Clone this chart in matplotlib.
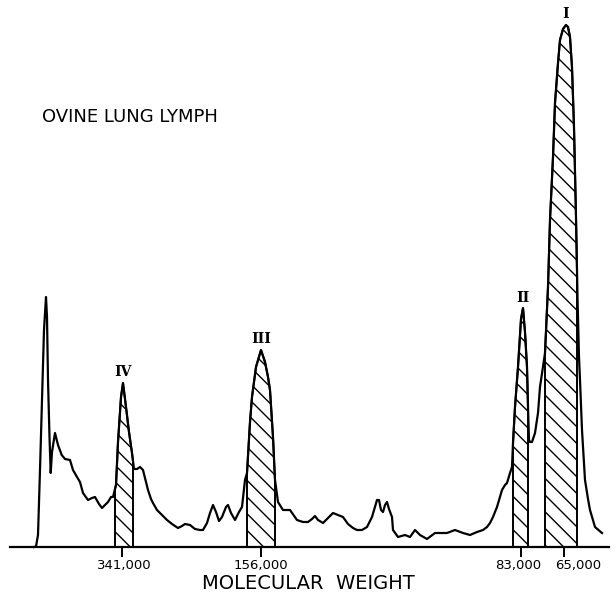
import numpy as np
import matplotlib
matplotlib.use("Agg")
import matplotlib.pyplot as plt
import matplotlib.transforms as mtransforms

# densitometer trace: position along the gel and height above baseline
trace_pos = [34, 36, 38, 40, 42, 44, 46, 47, 48, 49.5, 50.7, 52, 55, 58, 61.7, 65, 70, 73, 77, 80,
             83, 88, 92, 95, 99, 102, 105, 108, 111, 113, 116, 118, 121, 123, 126, 129, 132, 134,
             137, 140, 143, 146, 148, 151, 153, 157, 160, 164, 167, 172, 178, 182, 185, 190, 195,
             200, 203, 207, 210, 213, 216, 219, 222, 226, 228, 231, 235, 239, 242, 245, 247, 250,
             252, 256, 261, 265, 268, 270, 273, 275, 278, 283, 290, 297, 303, 308, 312, 315, 318,
             323, 328, 333, 338, 343, 348, 353, 357, 362, 367, 372, 377, 379, 381, 383, 385, 387,
             389, 392, 393, 398, 405, 410, 415, 420, 427, 435, 447, 455, 463, 470, 477, 483, 487,
             490, 493, 497, 500, 502, 505, 507, 510, 512, 513, 515, 518, 521, 523, 525, 527, 528,
             529, 530, 532, 535, 538, 540, 543, 545, 548, 550, 553, 555, 558, 560, 563, 566, 568,
             570, 572, 574, 576, 577.5, 579, 580, 582, 585, 588, 590, 595, 602]
trace_h = [0, 0.5, 12, 77, 147, 217, 250, 230, 167, 110, 74, 95, 114, 102, 92, 88, 87, 77, 70, 65,
           54, 47, 49, 50, 43, 39, 42, 45, 50, 50, 62, 105, 150, 164, 140, 115, 94, 78,
           78, 80, 77, 65, 57, 48, 44, 37, 34, 30, 27, 23, 19, 21, 23, 22, 18,
           17, 17, 24, 34, 42, 35, 26, 30, 40, 42, 34, 27, 35, 40, 67, 74, 125,
           150, 180, 197, 185, 170, 157, 110, 67, 45, 37, 37, 27, 25, 25, 28, 31, 27,
           24, 29, 34, 32, 30, 23, 19, 17, 17, 20, 30, 47, 47, 37, 35, 42, 45,
           38, 30, 17, 10, 12, 10, 17, 12, 8, 14, 14, 17, 14, 12, 15, 17, 20,
           24, 30, 40, 50, 57, 62, 64, 74, 80, 104, 140, 180, 228, 239, 215, 180, 140,
           107, 105, 105, 114, 134, 160, 180, 194, 260, 327, 390, 444, 484, 507, 518, 522, 520,
           510, 480, 420, 330, 250, 190, 167, 117, 67, 48, 37, 20, 14]

# shaded fractions (start, end) and their names
band_names = ["IV", "III", "II", "I"]
band_ranges = [(115, 133), (247, 275), (513, 528), (545, 577)]

# molecular weight markers
mw_pos = [122, 261, 521, 564]
mw_labels = ["341,000", "156,000", "83,000", "65,000"]

plt.rcParams["hatch.linewidth"] = 1.0

fig = plt.figure(figsize=(6.16, 5.97), dpi=100)
ax = fig.add_axes([0, 0, 1, 1])
ax.set_xlim(0, 616)
ax.set_ylim(-50, 547)

x = np.array(trace_pos)
h = np.array(trace_h)
ax.plot(x, h, color="black", lw=1.6, solid_joinstyle="round", zorder=3)

for name, (a, b) in zip(band_names, band_ranges):
    xs = np.linspace(a, b, 80)
    ys = np.interp(xs, x, h)
    ax.fill_between(xs, 0, ys, facecolor="white", edgecolor="black",
                    hatch="\\\\", lw=1.4, zorder=2)
    i = np.argmax(ys)
    ax.annotate(name, (xs[i], ys[i]), xytext=(0, 3), textcoords="offset points",
                ha="center", va="bottom", fontsize=10, fontweight="bold",
                family="DejaVu Serif")

# baseline with molecular weight ticks
for s in ["top", "left", "right"]:
    ax.spines[s].set_visible(False)
ax.spines["bottom"].set_position(("data", 0))
ax.spines["bottom"].set_bounds(10, 609)
ax.spines["bottom"].set_linewidth(1.6)
ax.set_yticks([])
ax.set_xticks(mw_pos, mw_labels, fontsize=9.5)
ax.tick_params(axis="x", direction="out", length=7, width=1.4, pad=2)

# the lettering in the original sits a little off some ticks
for lab, dx in zip(ax.get_xticklabels(), [2, 0, -3, 14]):
    lab.set_transform(lab.get_transform() +
                      mtransforms.ScaledTranslation(dx / 100, 0, fig.dpi_scale_trans))

fig.text(0.068, 0.804, "OVINE LUNG LYMPH", fontsize=13, ha="left", va="center")
fig.text(0.5, 0.022, "MOLECULAR  WEIGHT", fontsize=14, ha="center", va="center")

fig.savefig("out.png", dpi=100)
